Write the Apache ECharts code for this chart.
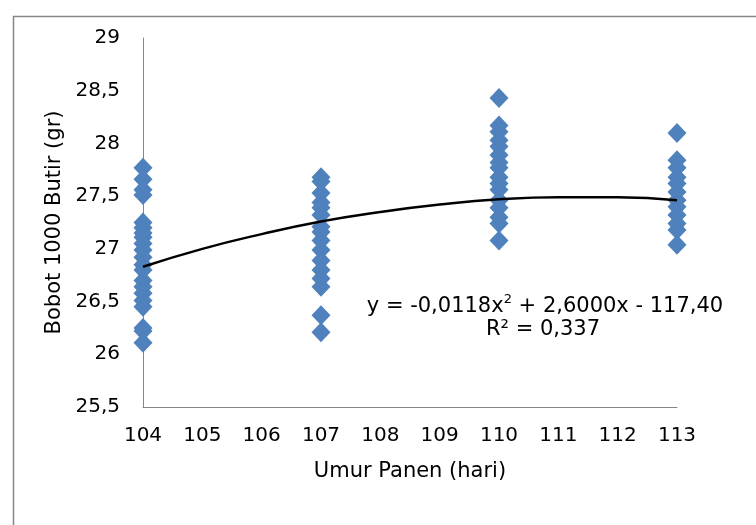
<!DOCTYPE html>
<html>
<head>
<meta charset="utf-8">
<script src="https://cdn.jsdelivr.net/npm/echarts@6/dist/echarts.min.js"></script>
<style>html,body{margin:0;padding:0;background:#fff}#c{width:756px;height:525px}</style>
</head>
<body>
<div id="c"></div>
<script>
const xTicks = [104, 105, 106, 107, 108, 109, 110, 111, 112, 113];
const groupX = [104, 107, 110, 113];
const w104 = [27.77, 27.66, 27.56, 27.51, 27.25, 27.20, 27.15, 27.11, 27.05, 26.99, 26.92, 26.85, 26.80, 26.70, 26.64, 26.58, 26.51, 26.45, 26.25, 26.22, 26.11];
const w107 = [27.68, 27.64, 27.53, 27.44, 27.39, 27.32, 27.21, 27.16, 27.08, 26.99, 26.89, 26.80, 26.72, 26.64, 26.37, 26.21];
const w110 = [28.43, 28.17, 28.11, 28.03, 27.97, 27.89, 27.82, 27.77, 27.68, 27.62, 27.56, 27.46, 27.39, 27.30, 27.24, 27.08];
const w113 = [28.10, 27.84, 27.77, 27.68, 27.62, 27.54, 27.46, 27.40, 27.32, 27.24, 27.18, 27.04];
// trendline values at each x tick
const trend = [26.83, 27.00, 27.14, 27.26, 27.35, 27.42, 27.47, 27.49, 27.49, 27.46];

const groups = [w104, w107, w110, w113];
const scatterData = [];
groups.forEach((arr, i) => arr.forEach(v => scatterData.push([groupX[i], v])));
const trendData = xTicks.map((x, i) => [x, trend[i]]);

const font = '"DejaVu Sans", sans-serif';
const chart = echarts.init(document.getElementById('c'));
chart.setOption({
  backgroundColor: '#fff',
  animation: false,
  grid: { left: 143, right: 79, top: 38, bottom: 118, containLabel: false },
  xAxis: {
    type: 'value', min: 104, max: 113, interval: 1,
    name: 'Umur Panen (hari)', nameLocation: 'middle', nameGap: 54,
    nameTextStyle: { fontFamily: font, fontSize: 21, color: '#000' },
    axisLine: { show: true, lineStyle: { color: '#868686', width: 1 } },
    axisTick: { show: false },
    splitLine: { show: false },
    axisLabel: { margin: 19, fontFamily: font, fontSize: 20, color: '#000' }
  },
  yAxis: {
    type: 'value', min: 25.5, max: 29, interval: 0.5,
    name: 'Bobot 1000 Butir (gr)', nameLocation: 'middle', nameGap: 76,
    nameTextStyle: { fontFamily: font, fontSize: 21, color: '#000' },
    axisLine: { show: true, lineStyle: { color: '#868686', width: 1 } },
    axisTick: { show: false },
    splitLine: { show: false },
    axisLabel: { margin: 23, fontFamily: font, fontSize: 20, color: '#000',
      formatter: v => String(v).replace('.', ',') }
  },
  series: [
    {
      type: 'scatter', data: scatterData, symbol: 'diamond', symbolSize: [19, 20],
      itemStyle: { color: '#4F81BD', opacity: 1 }, z: 2
    },
    {
      type: 'line', data: trendData, smooth: true, showSymbol: false, symbol: 'none',
      lineStyle: { color: '#000', width: 2.5 }, z: 3
    }
  ],
  graphic: [
    { type: 'rect', left: 11, top: 14, shape: { width: 800, height: 600 },
      style: { fill: 'none', stroke: '#868686', lineWidth: 1.5 }, silent: true, z: -10 },
    { type: 'text', x: 545, y: 305, style: {
        text: '{n|y = -0,0118x}{s|2}{n| + 2,6000x - 117,40}',
        align: 'center', verticalAlign: 'middle',
        rich: {
          n: { fontFamily: font, fontSize: 21, color: '#000', lineHeight: 24, verticalAlign: 'bottom' },
          s: { fontFamily: font, fontSize: 13, color: '#000', lineHeight: 24, verticalAlign: 'top' }
        }
      }, z: 10 },
    { type: 'text', x: 543, y: 330, style: {
        text: 'R² = 0,337', align: 'center', verticalAlign: 'middle',
        fontFamily: font, fontSize: 21, fill: '#000'
      }, z: 10 }
  ]
});
</script>
</body>
</html>
